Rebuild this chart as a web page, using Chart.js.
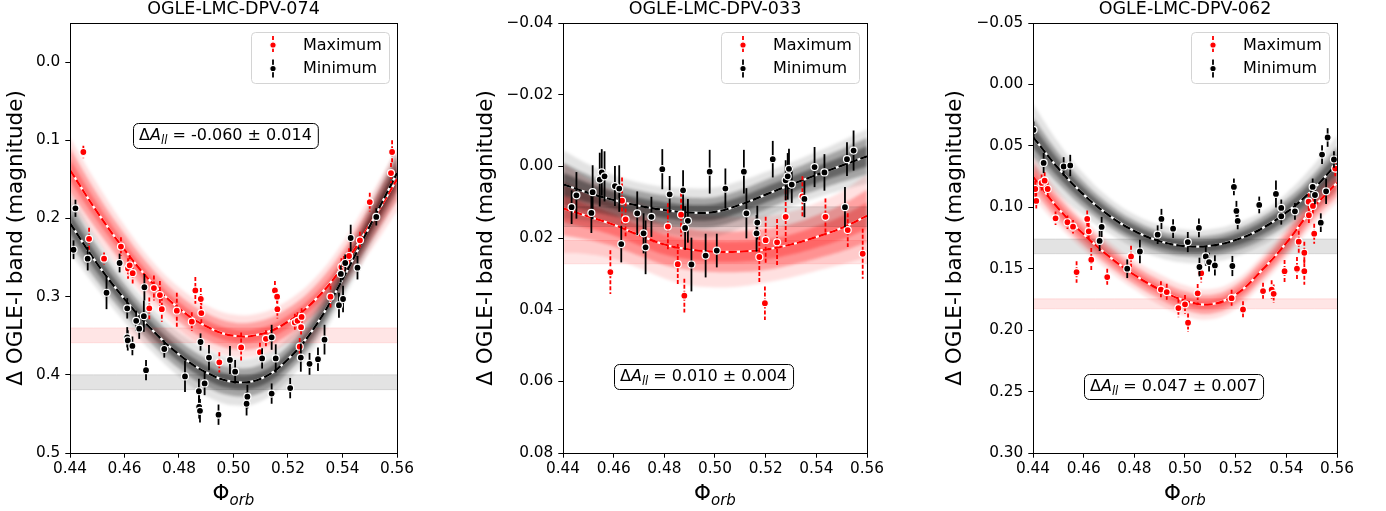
<!DOCTYPE html>
<html>
<head>
<meta charset="utf-8">
<script src="https://cdn.jsdelivr.net/npm/chart.js@4.4.1/dist/chart.umd.min.js"></script>
<style>
  body { margin: 0; background: #fff; }
  #wrap { position: relative; width: 1386px; height: 511px; }
  #wrap canvas { position: absolute; top: 0; }
</style>
</head>
<body>
<div id="wrap">
  <canvas id="dpv074" width="462" height="511" style="left:0px"></canvas>
  <canvas id="dpv033" width="462" height="511" style="left:462px"></canvas>
  <canvas id="dpv062" width="462" height="511" style="left:924px"></canvas>
</div>
<script>
// shared phase axis
const phaseRange = [0.44, 0.56];
const phaseTicks = [0.44, 0.46, 0.48, 0.50, 0.52, 0.54, 0.56];
const fitPhase = [0.44, 0.45, 0.46, 0.47, 0.48, 0.49, 0.50, 0.51, 0.52, 0.53, 0.54, 0.55, 0.56];
const seriesLabels = ["Maximum", "Minimum"];

// ---- OGLE-LMC-DPV-074 ----
const magRange074 = [-0.05, 0.5];
const magTicks074 = [0.0, 0.1, 0.2, 0.3, 0.4, 0.5];
const maxPhase074 = [0.4449, 0.447, 0.4525, 0.4587, 0.4613, 0.4619, 0.463, 0.4691, 0.4708, 0.473, 0.4737, 0.4792, 0.4847, 0.486, 0.488, 0.4882, 0.4948, 0.5028, 0.5097, 0.5119, 0.5152, 0.516, 0.5161, 0.5225, 0.5235, 0.525, 0.5248, 0.5243, 0.5356, 0.5396, 0.5405, 0.5424, 0.5464, 0.55, 0.5578, 0.5582];
const maxMag074 = [0.115, 0.226, 0.2515, 0.236, 0.264, 0.26, 0.27, 0.315, 0.289, 0.298, 0.316, 0.318, 0.332, 0.292, 0.303, 0.321, 0.384, 0.365, 0.371, 0.354, 0.292, 0.3, 0.316, 0.333, 0.331, 0.326, 0.339, 0.364, 0.3, 0.262, 0.259, 0.248, 0.228, 0.179, 0.142, 0.115];
const maxErr074 = [0.008, 0.014, 0.008, 0.012, 0.013, 0.013, 0.015, 0.014, 0.016, 0.018, 0.016, 0.023, 0.012, 0.017, 0.014, 0.015, 0.013, 0.019, 0.012, 0.011, 0.012, 0.012, 0.012, 0.011, 0.011, 0.011, 0.011, 0.011, 0.014, 0.011, 0.011, 0.01, 0.011, 0.012, 0.013, 0.015];
const minPhase074 = [0.442, 0.4413, 0.4465, 0.4534, 0.4582, 0.461, 0.461, 0.4612, 0.4629, 0.4643, 0.4654, 0.4673, 0.4671, 0.4679, 0.4746, 0.4822, 0.4873, 0.4874, 0.4877, 0.4879, 0.4894, 0.491, 0.4945, 0.4987, 0.5006, 0.5048, 0.5051, 0.5105, 0.514, 0.514, 0.5155, 0.5208, 0.5247, 0.5279, 0.531, 0.5334, 0.5387, 0.5394, 0.5402, 0.541, 0.543, 0.5455, 0.5524];
const minMag074 = [0.187, 0.24, 0.2515, 0.295, 0.257, 0.315, 0.352, 0.356, 0.363, 0.331, 0.341, 0.288, 0.325, 0.394, 0.367, 0.402, 0.421, 0.441, 0.446, 0.358, 0.411, 0.378, 0.451, 0.381, 0.396, 0.437, 0.428, 0.379, 0.352, 0.424, 0.379, 0.417, 0.378, 0.386, 0.38, 0.355, 0.311, 0.271, 0.303, 0.257, 0.225, 0.263, 0.198];
const minErr074 = [0.011, 0.012, 0.015, 0.021, 0.012, 0.013, 0.013, 0.013, 0.012, 0.013, 0.013, 0.017, 0.02, 0.013, 0.011, 0.02, 0.016, 0.015, 0.015, 0.011, 0.015, 0.016, 0.013, 0.018, 0.015, 0.015, 0.015, 0.013, 0.016, 0.013, 0.018, 0.013, 0.018, 0.014, 0.015, 0.019, 0.016, 0.011, 0.017, 0.011, 0.017, 0.015, 0.011];
const maxFit074 = [0.138, 0.192, 0.24, 0.282, 0.315, 0.338, 0.35, 0.348, 0.332, 0.304, 0.262, 0.208, 0.15];
const minFit074 = [0.206, 0.258, 0.303, 0.342, 0.374, 0.397, 0.409, 0.405, 0.38, 0.338, 0.278, 0.21, 0.142];
const maxCore074 = [0.014, 0.011, 0.009, 0.008, 0.008, 0.008, 0.008, 0.008, 0.008, 0.008, 0.009, 0.011, 0.013];
const maxMid074 = [0.028, 0.023, 0.02, 0.018, 0.017, 0.017, 0.017, 0.017, 0.017, 0.018, 0.02, 0.023, 0.027];
const maxOuter074 = [0.042, 0.036, 0.031, 0.028, 0.027, 0.027, 0.027, 0.027, 0.027, 0.028, 0.031, 0.035, 0.04];
const minCore074 = [0.013, 0.011, 0.01, 0.009, 0.009, 0.009, 0.009, 0.009, 0.009, 0.009, 0.009, 0.01, 0.011];
const minMid074 = [0.026, 0.022, 0.019, 0.018, 0.018, 0.018, 0.018, 0.018, 0.017, 0.017, 0.018, 0.02, 0.023];
const minOuter074 = [0.038, 0.032, 0.029, 0.028, 0.028, 0.03, 0.03, 0.029, 0.027, 0.026, 0.027, 0.029, 0.032];
const maxLevel074 = [0.340, 0.359];
const minLevel074 = [0.400, 0.419];
const note074 = "-0.060 ± 0.014";

// ---- OGLE-LMC-DPV-033 ----
const magRange033 = [-0.04, 0.08];
const magTicks033 = [-0.04, -0.02, 0.0, 0.02, 0.04, 0.06, 0.08];
const maxPhase033 = [0.4587, 0.4633, 0.4647, 0.4814, 0.4853, 0.4866, 0.4879, 0.5175, 0.5197, 0.52, 0.5245, 0.5279, 0.5345, 0.5436, 0.5524, 0.5583];
const maxMag033 = [0.0295, 0.0096, 0.0148, 0.0168, 0.0273, 0.0135, 0.0361, 0.0253, 0.0382, 0.0206, 0.0212, 0.0141, 0.0084, 0.0141, 0.0178, 0.0244];
const maxErr033 = [0.0061, 0.0065, 0.0047, 0.0065, 0.0056, 0.0061, 0.0047, 0.0075, 0.0047, 0.0065, 0.0065, 0.0075, 0.0056, 0.0051, 0.0047, 0.007];
const minPhase033 = [0.4434, 0.4453, 0.4512, 0.4517, 0.4545, 0.4553, 0.4564, 0.4605, 0.4622, 0.463, 0.4693, 0.4718, 0.4726, 0.4749, 0.4792, 0.4821, 0.4874, 0.4882, 0.4893, 0.4907, 0.4963, 0.4979, 0.5007, 0.5041, 0.5114, 0.5124, 0.5167, 0.5164, 0.5228, 0.5279, 0.5287, 0.5292, 0.5303, 0.5353, 0.5393, 0.5432, 0.5513, 0.5521, 0.5547];
const minMag033 = [0.0114, 0.0081, 0.013, 0.0072, 0.0037, 0.0017, 0.0028, 0.0055, 0.0062, 0.0217, 0.0131, 0.0187, 0.0226, 0.0141, 0.0008, 0.0078, 0.0067, 0.0172, 0.0152, 0.0274, 0.0249, 0.0015, 0.0235, 0.0062, 0.0015, 0.0131, 0.0157, 0.0187, -0.002, 0.0039, 0.0028, 0.0007, 0.0051, 0.0091, 0.0002, 0.0017, 0.0114, -0.002, -0.0044];
const minErr033 = [0.0047, 0.0065, 0.0056, 0.0075, 0.0075, 0.0065, 0.007, 0.0056, 0.0065, 0.0051, 0.0061, 0.0056, 0.0075, 0.0056, 0.0056, 0.0051, 0.0056, 0.0061, 0.0061, 0.0075, 0.0061, 0.0061, 0.0047, 0.0056, 0.0061, 0.007, 0.0047, 0.0051, 0.0051, 0.0056, 0.0065, 0.0056, 0.0051, 0.0051, 0.0056, 0.0051, 0.0056, 0.0047, 0.0056];
const maxFit033 = [0.0117, 0.014, 0.0163, 0.0192, 0.0218, 0.0232, 0.0238, 0.0238, 0.0232, 0.0218, 0.0197, 0.0172, 0.0138];
const minFit033 = [0.005, 0.0074, 0.0094, 0.011, 0.0122, 0.0129, 0.0127, 0.0107, 0.0079, 0.0051, 0.0024, -0.0002, -0.0028];
const maxCore033 = [0.0038, 0.0033, 0.003, 0.0028, 0.0028, 0.0028, 0.0028, 0.0028, 0.0028, 0.0028, 0.003, 0.0033, 0.0037];
const maxMid033 = [0.0075, 0.0065, 0.006, 0.0057, 0.0057, 0.0057, 0.0057, 0.0057, 0.0057, 0.0057, 0.006, 0.0065, 0.0073];
const maxOuter033 = [0.0125, 0.0105, 0.0095, 0.0092, 0.0095, 0.01, 0.01, 0.0097, 0.0092, 0.0092, 0.0095, 0.0102, 0.0115];
const minCore033 = [0.0032, 0.0027, 0.0024, 0.0022, 0.0022, 0.0022, 0.0022, 0.0022, 0.0022, 0.0022, 0.0023, 0.0025, 0.0028];
const minMid033 = [0.006, 0.005, 0.0045, 0.0042, 0.0041, 0.0041, 0.0041, 0.0041, 0.0041, 0.0041, 0.0043, 0.0046, 0.0051];
const minOuter033 = [0.0095, 0.008, 0.007, 0.0065, 0.0065, 0.0068, 0.0068, 0.0066, 0.0063, 0.0062, 0.0064, 0.0069, 0.0076];
const maxLevel033 = [0.0207, 0.0272];
const minLevel033 = [0.0113, 0.0168];
const note033 = "0.010 ± 0.004";

// ---- OGLE-LMC-DPV-062 ----
const magRange062 = [-0.05, 0.3];
const magTicks062 = [-0.05, 0.0, 0.05, 0.1, 0.15, 0.2, 0.25, 0.3];
const maxPhase062 = [0.4409, 0.4413, 0.4434, 0.4446, 0.4458, 0.4489, 0.4536, 0.4558, 0.4572, 0.4614, 0.462, 0.463, 0.4693, 0.4787, 0.4905, 0.4928, 0.4974, 0.5, 0.5012, 0.505, 0.5064, 0.5184, 0.5229, 0.5308, 0.5342, 0.535, 0.5393, 0.5442, 0.5449, 0.5471, 0.5471, 0.5488, 0.5489, 0.5505, 0.551, 0.5593];
const maxMag062 = [0.0851, 0.0948, 0.0802, 0.0783, 0.0851, 0.109, 0.1122, 0.1158, 0.1527, 0.1095, 0.1196, 0.1427, 0.1568, 0.14, 0.167, 0.169, 0.182, 0.179, 0.194, 0.17, 0.1536, 0.174, 0.1832, 0.1682, 0.167, 0.1704, 0.152, 0.15, 0.128, 0.152, 0.137, 0.0954, 0.1065, 0.0989, 0.1215, 0.0685];
const maxErr062 = [0.0068, 0.0068, 0.0068, 0.0068, 0.0068, 0.0055, 0.0055, 0.0055, 0.0087, 0.0068, 0.0068, 0.0095, 0.0068, 0.0087, 0.0068, 0.0068, 0.0076, 0.0076, 0.0076, 0.0076, 0.0076, 0.0068, 0.0068, 0.0068, 0.0076, 0.0076, 0.009, 0.0095, 0.009, 0.011, 0.009, 0.0068, 0.0068, 0.0068, 0.0082, 0.0068];
const minPhase062 = [0.4402, 0.4442, 0.4521, 0.4547, 0.4663, 0.4671, 0.4772, 0.4822, 0.4892, 0.4907, 0.4953, 0.5011, 0.5055, 0.5057, 0.5082, 0.5095, 0.5118, 0.5187, 0.5193, 0.5203, 0.5208, 0.5293, 0.5359, 0.538, 0.538, 0.5434, 0.5504, 0.5513, 0.5536, 0.5541, 0.5557, 0.5563, 0.5588];
const minMag062 = [0.037, 0.0639, 0.0668, 0.066, 0.1274, 0.116, 0.15, 0.136, 0.1223, 0.1095, 0.1174, 0.1283, 0.1168, 0.1486, 0.14, 0.1446, 0.1473, 0.1478, 0.0834, 0.103, 0.1111, 0.0981, 0.0891, 0.1005, 0.1073, 0.1033, 0.0834, 0.09, 0.1125, 0.0571, 0.087, 0.0432, 0.0611];
const minErr062 = [0.0068, 0.0082, 0.0076, 0.0087, 0.0082, 0.0082, 0.0076, 0.0095, 0.0076, 0.0082, 0.0076, 0.0082, 0.0076, 0.0076, 0.0076, 0.0076, 0.0082, 0.0082, 0.0068, 0.0082, 0.0068, 0.0068, 0.011, 0.0068, 0.0068, 0.0068, 0.0068, 0.0076, 0.0076, 0.0076, 0.0103, 0.0076, 0.0068];
const maxFit062 = [0.075, 0.101, 0.122, 0.14, 0.155, 0.167, 0.176, 0.179, 0.171, 0.152, 0.129, 0.102, 0.08];
const minFit062 = [0.0427, 0.0683, 0.0897, 0.1067, 0.1193, 0.1276, 0.1316, 0.1313, 0.1266, 0.1176, 0.1042, 0.0865, 0.0645];
const maxCore062 = [0.0055, 0.0046, 0.004, 0.0037, 0.0036, 0.0036, 0.0036, 0.0036, 0.0036, 0.0037, 0.004, 0.0046, 0.0055];
const maxMid062 = [0.011, 0.0095, 0.0085, 0.0078, 0.0076, 0.0076, 0.0076, 0.0076, 0.0076, 0.0078, 0.0085, 0.0095, 0.011];
const maxOuter062 = [0.017, 0.014, 0.0125, 0.0118, 0.0118, 0.0125, 0.0125, 0.0122, 0.0118, 0.0118, 0.0125, 0.014, 0.016];
const minCore062 = [0.009, 0.007, 0.0058, 0.0052, 0.0048, 0.0047, 0.0047, 0.0047, 0.0048, 0.0052, 0.0058, 0.007, 0.008];
const minMid062 = [0.016, 0.0125, 0.0105, 0.0092, 0.0085, 0.0083, 0.0083, 0.0083, 0.0085, 0.0092, 0.0105, 0.0118, 0.014];
const minOuter062 = [0.027, 0.021, 0.017, 0.0145, 0.0135, 0.0135, 0.0135, 0.0135, 0.0135, 0.0135, 0.0155, 0.019, 0.023];
const maxLevel062 = [0.1745, 0.1826];
const minLevel062 = [0.1258, 0.1378];
const note062 = "0.047 ± 0.007";

const FONT = "'DejaVu Sans', sans-serif";
Chart.defaults.font.family = FONT;
Chart.defaults.color = "#000";

const tint = (rgb, a) => `rgba(${rgb}, ${a})`;

const redStyle = { rgb: "255, 0, 0", bands: [0.12, 0.28, 0.3], level: 0.1, errDash: [4, 2] };
const blackStyle = { rgb: "0, 0, 0", bands: [0.11, 0.28, 0.38], level: 0.11, errDash: [] };

const panels = [
  {
    canvas: "dpv074", title: "OGLE-LMC-DPV-074",
    range: magRange074, ticks: magTicks074, decimals: 1,
    axisWidth: 70, rightPad: 65, labelPad: 4,
    note: { value: note074, fx: 0.4755, fy: 0.2616 },
    series: [
      { ...redStyle, phase: maxPhase074, mag: maxMag074, err: maxErr074, fit: maxFit074, halves: [maxOuter074, maxMid074, maxCore074], levelRange: maxLevel074 },
      { ...blackStyle, phase: minPhase074, mag: minMag074, err: minErr074, fit: minFit074, halves: [minOuter074, minMid074, minCore074], levelRange: minLevel074 },
    ],
  },
  {
    canvas: "dpv033", title: "OGLE-LMC-DPV-033",
    range: magRange033, ticks: magTicks033, decimals: 2,
    axisWidth: 101, rightPad: 57, labelPad: 12,
    note: { value: note033, fx: 0.4622, fy: 0.821 },
    series: [
      { ...redStyle, phase: maxPhase033, mag: maxMag033, err: maxErr033, fit: maxFit033, halves: [maxOuter033, maxMid033, maxCore033], levelRange: maxLevel033 },
      { ...blackStyle, phase: minPhase033, mag: minMag033, err: minErr033, fit: minFit033, halves: [minOuter033, minMid033, minCore033], levelRange: minLevel033 },
    ],
  },
  {
    canvas: "dpv062", title: "OGLE-LMC-DPV-062",
    range: magRange062, ticks: magTicks062, decimals: 2,
    axisWidth: 109, rightPad: 49, labelPad: 18.5,
    note: { value: note062, fx: 0.4622, fy: 0.8453 },
    series: [
      { ...redStyle, phase: maxPhase062, mag: maxMag062, err: maxErr062, fit: maxFit062, halves: [maxOuter062, maxMid062, maxCore062], levelRange: maxLevel062 },
      { ...blackStyle, phase: minPhase062, mag: minMag062, err: minErr062, fit: minFit062, halves: [minOuter062, minMid062, minCore062], levelRange: minLevel062 },
    ],
  },
];

function curve(data, color, width, order, fill) {
  return {
    type: "line", data, borderColor: color, borderWidth: width,
    pointRadius: 0, tension: 0.4, fill, order, clip: 0,
  };
}

function buildDatasets(p) {
  const sets = [];
  p.series.forEach((s, k) => {
    const color = tint(s.rgb, 1);
    // posterior spread of the fitted curve (drawn soft)
    s.halves.forEach((half, j) => {
      const lo = fitPhase.map((x, i) => ({ x, y: s.fit[i] - half[i] }));
      const hi = fitPhase.map((x, i) => ({ x, y: s.fit[i] + half[i] }));
      const ord = 40 - k * 10 - j;
      sets.push({ ...curve(lo, "transparent", 0, ord, false), soft: true });
      sets.push({ ...curve(hi, "transparent", 0, ord, "-1"), backgroundColor: tint(s.rgb, s.bands[j]), soft: true });
    });
    // level of the minimum
    const lvlLo = phaseRange.map((x) => ({ x, y: s.levelRange[0] }));
    const lvlHi = phaseRange.map((x) => ({ x, y: s.levelRange[1] }));
    sets.push(curve(lvlLo, tint(s.rgb, s.level), 1, 20, false));
    sets.push({ ...curve(lvlHi, tint(s.rgb, s.level), 1, 20, "-1"), backgroundColor: tint(s.rgb, s.level) });
    // best fit
    const pts = fitPhase.map((x, i) => ({ x, y: s.fit[i] }));
    sets.push(curve(pts, "#ffffff", 2.2, 15 - 2 * k, false));
    sets.push({ ...curve(pts, color, 2.2, 14 - 2 * k, false), borderDash: [8.5, 3] });
    // measurements
    sets.push({
      type: "line", showLine: false, order: 5 - k, clip: 0,
      data: s.phase.map((x, i) => ({ x, y: s.mag[i] })),
      errors: s.err, errorColor: color, errorDash: s.errDash,
      pointRadius: 3.5, pointBackgroundColor: color,
      pointBorderColor: "#ffffff", pointBorderWidth: 1.2,
    });
  });
  return sets;
}

// blur the fills of the spread bands so they fade like the stacked sample curves
function prepareNext(chart, index) {
  const seq = chart.getSortedVisibleDatasetMetas().slice().reverse();
  const pos = index === null ? 0 : seq.findIndex((m) => m.index === index) + 1;
  const next = seq[pos];
  chart.ctx.filter = next && chart.data.datasets[next.index].soft ? "blur(1.6px)" : "none";
}

const softBands = {
  id: "softBands",
  beforeDatasetsDraw(chart) { prepareNext(chart, null); },
  afterDatasetDraw(chart, args) { prepareNext(chart, args.index); },
  afterDatasetsDraw(chart) { chart.ctx.filter = "none"; },
};

const errorBars = {
  id: "errorBars",
  beforeDatasetDraw(chart, args) {
    const ds = chart.data.datasets[args.index];
    if (!ds.errors) return;
    const { ctx, chartArea: a, scales: { x, y } } = chart;
    ctx.save();
    ctx.filter = "none";
    ctx.beginPath();
    ctx.rect(a.left, a.top, a.right - a.left, a.bottom - a.top);
    ctx.clip();
    ctx.strokeStyle = ds.errorColor;
    ctx.lineWidth = 1.8;
    ctx.setLineDash(ds.errorDash);
    ds.data.forEach((pt, i) => {
      const px = x.getPixelForValue(pt.x);
      ctx.beginPath();
      ctx.moveTo(px, y.getPixelForValue(pt.y - ds.errors[i]));
      ctx.lineTo(px, y.getPixelForValue(pt.y + ds.errors[i]));
      ctx.stroke();
    });
    ctx.restore();
  },
};

function decor(p) {
  return {
    id: "decor",
    afterDatasetsDraw(chart) {
      const { ctx, chartArea: a } = chart;
      ctx.save();
      ctx.strokeStyle = "#000";
      ctx.lineWidth = 1;
      const l = Math.round(a.left), t = Math.round(a.top);
      ctx.strokeRect(l + 0.5, t + 0.5, Math.round(a.right) - l, Math.round(a.bottom) - t);
      ctx.restore();
    },
    afterDraw(chart) {
      const { ctx, chartArea: a } = chart;
      ctx.save();
      ctx.filter = "none";
      ctx.fillStyle = "#000";
      ctx.textBaseline = "alphabetic";

      // x axis title: Phi_orb
      ctx.font = `21.5px ${FONT}`;
      const wPhi = ctx.measureText("Φ").width;
      ctx.font = `italic 15px ${FONT}`;
      const wSub = ctx.measureText("orb").width;
      const x0 = (a.left + a.right) / 2 - (wPhi + wSub) / 2;
      ctx.font = `21.5px ${FONT}`;
      ctx.fillText("Φ", x0, a.bottom + 47);
      ctx.font = `italic 15px ${FONT}`;
      ctx.fillText("orb", x0 + wPhi, a.bottom + 51.5);

      // legend
      const bw = 138, bh = 51;
      const bx = a.right - 8 - bw, by = a.top + 9;
      ctx.beginPath();
      ctx.roundRect(bx + 0.5, by + 0.5, bw, bh, 4);
      ctx.fillStyle = "rgba(255,255,255,0.8)";
      ctx.fill();
      ctx.strokeStyle = "#d4d4d4";
      ctx.lineWidth = 1;
      ctx.stroke();
      p.series.forEach((s, k) => {
        const cy = by + 13 + k * 23.5, mx = bx + 22;
        const color = tint(s.rgb, 1);
        ctx.strokeStyle = color;
        ctx.lineWidth = 1.8;
        ctx.setLineDash(s.errDash);
        ctx.beginPath();
        ctx.moveTo(mx, cy - 9);
        ctx.lineTo(mx, cy + 9);
        ctx.stroke();
        ctx.setLineDash([]);
        ctx.beginPath();
        ctx.arc(mx, cy, 3.2, 0, Math.PI * 2);
        ctx.fillStyle = color;
        ctx.fill();
        ctx.strokeStyle = "#fff";
        ctx.lineWidth = 1.2;
        ctx.stroke();
        ctx.fillStyle = "#000";
        ctx.font = `16px ${FONT}`;
        ctx.textBaseline = "middle";
        ctx.fillText(seriesLabels[k], bx + 52, cy + 0.5);
        ctx.textBaseline = "alphabetic";
      });

      // amplitude difference box
      const parts = [
        { t: "Δ", f: `16px ${FONT}`, dy: 0 },
        { t: "A", f: `italic 16px ${FONT}`, dy: 0 },
        { t: "ll", f: `italic 11.5px ${FONT}`, dy: 3.5 },
        { t: " = " + p.note.value, f: `16px ${FONT}`, dy: 0 },
      ];
      let total = 0;
      parts.forEach((q) => { ctx.font = q.f; q.w = ctx.measureText(q.t).width; total += q.w; });
      const cx = a.left + p.note.fx * (a.right - a.left);
      const cy = a.top + p.note.fy * (a.bottom - a.top);
      const W = total + 12, H = 25;
      ctx.beginPath();
      ctx.roundRect(Math.round(cx - W / 2) + 0.5, Math.round(cy - H / 2) + 0.5, W, H, 5);
      ctx.fillStyle = "#fff";
      ctx.fill();
      ctx.strokeStyle = "#000";
      ctx.lineWidth = 1;
      ctx.stroke();
      ctx.fillStyle = "#000";
      let tx = cx - total / 2;
      parts.forEach((q) => { ctx.font = q.f; ctx.fillText(q.t, tx, cy + 5 + q.dy); tx += q.w; });
      ctx.restore();
    },
  };
}

const fmtMag = (dec) => (v) => (v < -1e-9 ? "\u2212" : "") + Math.abs(v).toFixed(dec);

panels.forEach((p) => {
  new Chart(document.getElementById(p.canvas), {
    type: "line",
    data: { datasets: buildDatasets(p) },
    options: {
      responsive: false,
      maintainAspectRatio: false,
      devicePixelRatio: 1,
      animation: false,
      events: [],
      layout: { padding: { left: 0, right: p.rightPad, top: 0, bottom: 0 } },
      plugins: {
        legend: { display: false },
        tooltip: { enabled: false },
        title: {
          display: true, text: p.title, fullSize: false, color: "#000",
          font: { size: 17.5, weight: "normal", lineHeight: 1 },
          padding: { top: 0.5, bottom: 5 },
        },
      },
      scales: {
        x: {
          type: "linear", min: phaseRange[0], max: phaseRange[1],
          afterBuildTicks: (sc) => { sc.ticks = phaseTicks.map((v) => ({ value: v })); },
          afterFit: (sc) => { sc.height = 58; },
          ticks: { callback: (v) => v.toFixed(2), font: { size: 15.3 }, padding: 2, maxRotation: 0, autoSkip: false, color: "#000" },
          grid: { drawOnChartArea: false, tickLength: 4.7, tickColor: "#000", tickWidth: 1 },
          border: { display: false },
        },
        y: {
          type: "linear", reverse: true, min: p.range[0], max: p.range[1],
          afterBuildTicks: (sc) => { sc.ticks = p.ticks.map((v) => ({ value: v })); },
          afterFit: (sc) => { sc.width = p.axisWidth; },
          ticks: { callback: fmtMag(p.decimals), font: { size: 15.3 }, padding: 5, autoSkip: false, color: "#000" },
          grid: { drawOnChartArea: false, tickLength: 4.7, tickColor: "#000", tickWidth: 1 },
          border: { display: false },
          title: {
            display: true, text: "Δ OGLE-I band (magnitude)", color: "#000",
            font: { size: 21.5 }, padding: { top: p.labelPad, bottom: 0 },
          },
        },
      },
    },
    plugins: [softBands, errorBars, decor(p)],
  });
});
</script>
</body>
</html>
